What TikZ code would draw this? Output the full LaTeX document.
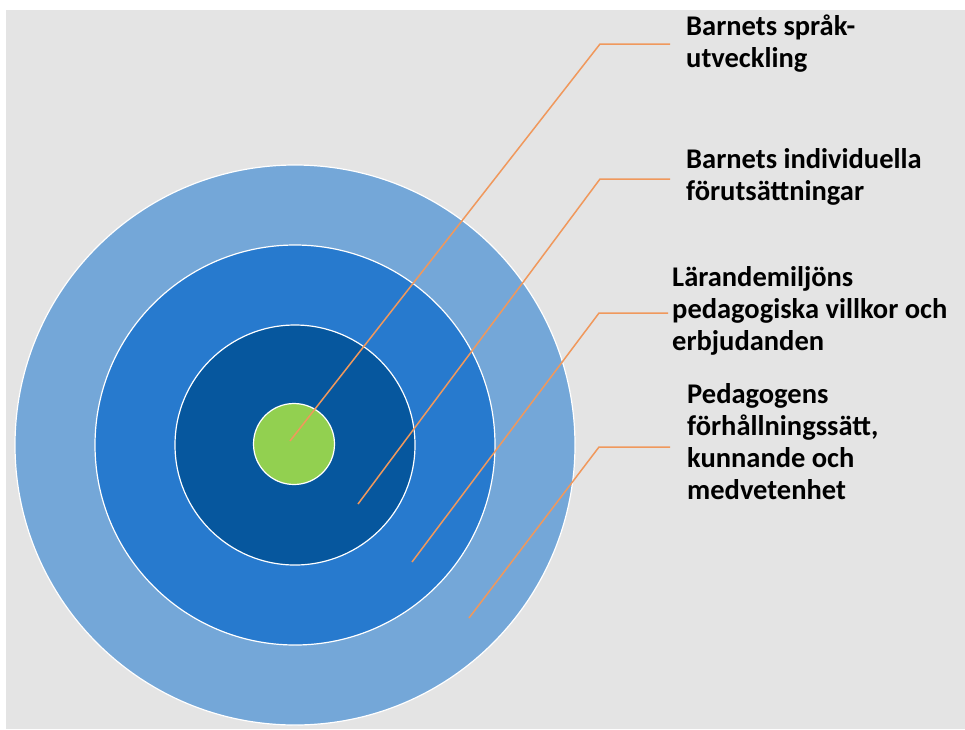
\documentclass[tikz,border=0pt]{standalone}
\usepackage{fontspec}
\setmainfont{Carlito}
\usepackage{tikz}
\usetikzlibrary{positioning}
\definecolor{canvasgray}{RGB}{228,228,228}
\definecolor{ringouter}{RGB}{116,167,216}
\definecolor{ringmiddle}{RGB}{39,122,206}
\definecolor{ringinner}{RGB}{6,87,158}
\definecolor{ringcore}{RGB}{146,208,80}
\definecolor{leaderorange}{RGB}{240,152,92}
\tikzstyle{ring}=[circle,
draw=white,
line width=1.2pt,
inner sep=0pt]
\tikzstyle{leader}=[draw=leaderorange,
line width=1.5pt]
\tikzstyle{caption}=[anchor=west,
align=left,
inner sep=0pt,
text=black,
font=\fontsize{28.5}{32}\selectfont\bfseries]

\begin{document}
\begin{tikzpicture}[x=1pt,y=-1pt]
		% page size and the gray canvas (white margin on top and left)
		\useasboundingbox (0,0) rectangle (965,729);
		\fill[canvasgray] (6,10) rectangle (965,729);
		
		% The rings, drawn from the outside in:
		\node (outer)  [ring, fill=ringouter,  minimum size=560pt] at (295,445) {};
		\node (middle) [ring, fill=ringmiddle, minimum size=400pt] at (295,445) {};
		\node (inner)  [ring, fill=ringinner,  minimum size=240pt] at (295,445) {};
		\node (core)   [ring, fill=ringcore,   minimum size=81pt]  at (294,444) {};
		
		% Labels on the right:
		\node (l_core)   [caption] at (686,44)  {Barnets språk-\\utveckling};
		\node (l_inner)  [caption] at (686,177) {Barnets individuella\\förutsättningar};
		\node (l_middle) [caption] at (672,311) {Lärandemiljöns\\pedagogiska villkor och\\erbjudanden};
		\node (l_outer)  [caption] at (687,442) {Pedagogens\\förhållningssätt,\\kunnande och\\medvetenhet};
		
		% where each leader starts inside its ring, and where it bends
		\coordinate (p_core)   at (290,441);
		\coordinate (p_inner)  at (358,504);
		\coordinate (p_middle) at (412,562);
		\coordinate (p_outer)  at (469,618);
		\coordinate (k_core)   at (600,44);
		\coordinate (k_inner)  at (600,179);
		\coordinate (k_middle) at (599,313);
		\coordinate (k_outer)  at (599,447);
		
		% The leaders:
		\path[leader] (p_core) -- (k_core) -- ([xshift=-16pt]l_core.west |- k_core);
		\path[leader] (p_inner) -- (k_inner) -- ([xshift=-16pt]l_inner.west |- k_inner);
		\path[leader] (p_middle) -- (k_middle) -- ([xshift=-4pt]l_middle.west |- k_middle);
		\path[leader] (p_outer) -- (k_outer) -- ([xshift=-17pt]l_outer.west |- k_outer);
\end{tikzpicture}
\end{document}
